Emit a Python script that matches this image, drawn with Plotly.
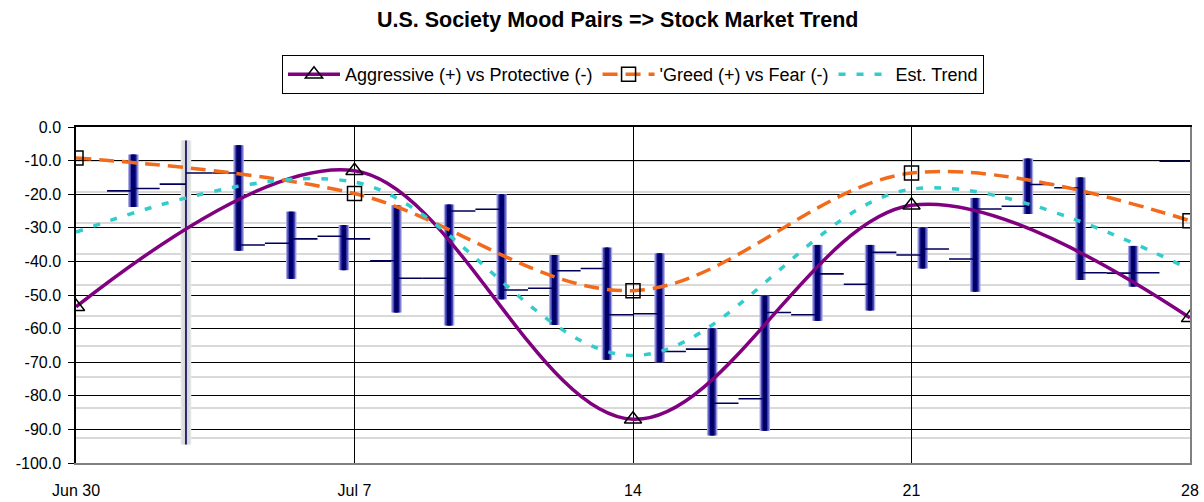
import numpy as np
import plotly.graph_objects as go

# ---- mood-pair lines (weekly points) ----
days = [0, 7, 14, 21, 28]
x_tick_labels = ["Jun 30", "Jul 7", "14", "21", "28"]
aggressive = [-53.5, -13.0, -87.0, -23.3, -56.8]
greed = [-9.2, -19.8, -48.7, -13.7, -27.9]
est_trend = [-31.3, -16.4, -68.0, -18.5, -42.4]

# ---- market bars (open / high / low / close) ----
bar_idx = list(range(1, 22))
bar_open = [-19.0, -17.0, -13.7, -34.6, -32.5, -39.8, -45.0, -24.5, -48.0, -42.1,
            -55.6, -66.1, -80.9, -55.9, -46.8, -38.1, -39.3, -23.6, -18.1, -43.5, -10.2]
bar_high = [-8.2, -4.0, -5.4, -25.2, -29.2, -23.3, -23.1, -20.0, -38.1, -35.9,
            -37.6, -59.9, -50.2, -35.1, -35.1, -29.9, -21.1, -9.4, -15.0, -35.4, -10.2]
bar_low = [-23.8, -94.5, -36.8, -45.2, -42.6, -55.2, -59.1, -51.3, -58.9, -69.3,
           -70.0, -91.8, -90.4, -57.7, -54.6, -42.1, -49.0, -25.9, -45.5, -47.5, -10.2]
bar_close = [-18.3, -13.7, -35.1, -33.3, -33.3, -45.0, -25.0, -48.5, -42.8, -55.9,
             -66.8, -82.2, -55.2, -43.7, -37.3, -36.3, -24.4, -17.1, -43.4, -43.4, -10.2]
highlight_bar = 2

y_ticks = [0, -10, -20, -30, -40, -50, -60, -70, -80, -90, -100]
y_tick_labels = ["0.0", "-10.0", "-20.0", "-30.0", "-40.0", "-50.0",
                 "-60.0", "-70.0", "-80.0", "-90.0", "-100.0"]
secondary_levels = [-10.2, -19.3, -28.5, -37.7, -46.9, -56.1, -65.3, -74.4, -83.6, -92.7]

FONT = "Liberation Sans, Arial, sans-serif"

hi = np.array(bar_high)
lo = np.array(bar_low)
outer_col = ["#e6e6e6" if i == highlight_bar else "#a8a8e4" for i in bar_idx]
mid_col = ["#dedede" if i == highlight_bar else "#4848b0" for i in bar_idx]
inner_col = ["#d8d8d8" if i == highlight_bar else "#00007a" for i in bar_idx]

fig = go.Figure()

for w, cols in [(0.2, outer_col), (0.15, mid_col), (0.09, inner_col)]:
    fig.add_trace(go.Bar(x=bar_idx, y=hi - lo, base=lo, width=w,
                         marker=dict(color=cols, line=dict(width=0)),
                         showlegend=False, hoverinfo="skip", xaxis="x", yaxis="y"))
fig.add_trace(go.Ohlc(x=bar_idx, open=bar_open, high=bar_high, low=bar_low, close=bar_close,
                      increasing=dict(line=dict(color="#00005a", width=1.6)),
                      decreasing=dict(line=dict(color="#00005a", width=1.6)),
                      tickwidth=0.5, showlegend=False, hoverinfo="skip",
                      xaxis="x", yaxis="y"))

fig.add_trace(go.Scatter(x=days, y=aggressive, mode="lines+markers",
                         name="Aggressive (+) vs Protective (-)",
                         line=dict(color="#800080", width=3.5, shape="spline", smoothing=1.0),
                         marker=dict(symbol="triangle-up-open", size=15, color="black",
                                     line=dict(width=1.5, color="black")),
                         xaxis="x2", yaxis="y2"))
fig.add_trace(go.Scatter(x=days, y=greed, mode="lines+markers",
                         name="'Greed (+) vs Fear (-)",
                         line=dict(color="#F26A1B", width=3.5, dash="15px,8px",
                                   shape="spline", smoothing=1.0),
                         marker=dict(symbol="square-open", size=14, color="black",
                                     line=dict(width=1.5, color="black")),
                         xaxis="x2", yaxis="y2"))
fig.add_trace(go.Scatter(x=days, y=est_trend, mode="lines",
                         name="Est. Trend",
                         line=dict(color="#33CCCC", width=3.5, dash="7px,11px",
                                   shape="spline", smoothing=1.0),
                         xaxis="x2", yaxis="y2"))

fig.update_layout(
    width=1204, height=502,
    margin=dict(l=76, r=14, t=127, b=39, autoexpand=False),
    paper_bgcolor="white", plot_bgcolor="white",
    barmode="overlay",
    font=dict(family=FONT, size=16, color="black"),
    title=dict(text="<b>U.S. Society Mood Pairs => Stock Market Trend</b>",
               x=0.513, xanchor="center", y=0.962, yanchor="middle",
               font=dict(family=FONT, size=21.5, color="black")),
    legend=dict(orientation="h", x=0.5, xanchor="center", y=1.214, yanchor="top",
                bordercolor="black", borderwidth=1, bgcolor="white",
                font=dict(family=FONT, size=18, color="black"),
                itemwidth=52, traceorder="normal", tracegroupgap=0),
    xaxis=dict(range=[-0.09, 21.08], side="top", showline=True, linecolor="black",
               linewidth=1.5, showticklabels=False, ticks="", showgrid=False,
               zeroline=False, rangeslider=dict(visible=False), fixedrange=True,
               automargin=False),
    yaxis=dict(range=[-100, 0], tickmode="array", tickvals=y_ticks, ticktext=y_tick_labels,
               showline=True, linecolor="black", linewidth=1.5,
               ticks="outside", ticklen=6, tickcolor="black", ticklabelstandoff=4,
               showgrid=True, gridcolor="black", gridwidth=1.2, zeroline=False,
               automargin=False,
               minor=dict(tickmode="array", tickvals=secondary_levels, showgrid=True,
                          gridcolor="#d9d9d9", gridwidth=1.5, ticks=""),
               tickfont=dict(family=FONT, size=16, color="black")),
    xaxis2=dict(overlaying="x", anchor="y2", side="bottom", range=[0, 28],
                tickmode="array", tickvals=days, ticktext=x_tick_labels,
                showline=True, linecolor="#808080", linewidth=1.5,
                ticks="", showgrid=True, gridcolor="black", gridwidth=1.2,
                zeroline=False, ticklabelstandoff=12, automargin=False,
                tickfont=dict(family=FONT, size=16, color="black")),
    yaxis2=dict(overlaying="y", anchor="x2", side="right", range=[-100, 0],
                showline=True, linecolor="#808080", linewidth=1.5, automargin=False,
                showticklabels=False, ticks="", showgrid=False, zeroline=False),
)

fig.write_html("out.html", config={"displayModeBar": False},
               post_script="document.body.style.margin='0';document.body.style.overflow='hidden';")
